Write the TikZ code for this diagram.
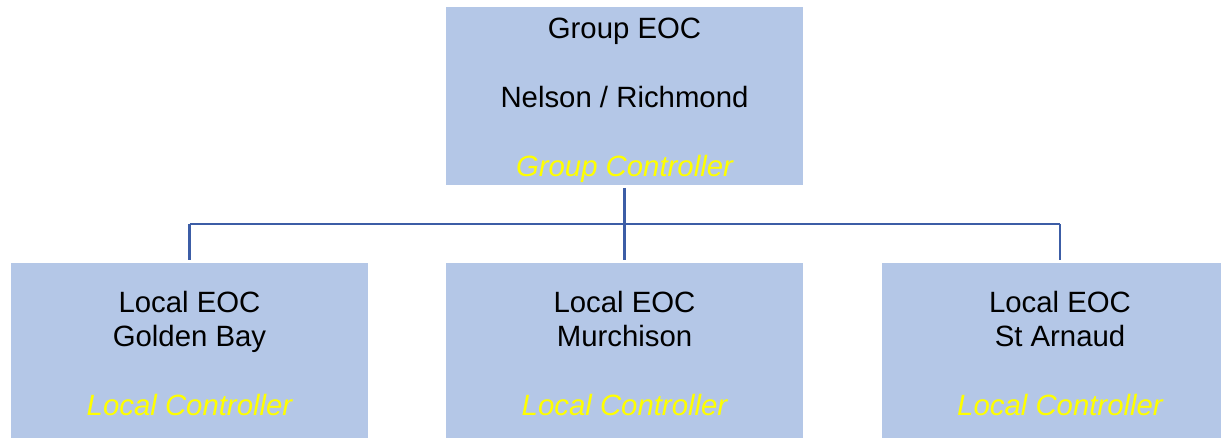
\documentclass[tikz,border=0pt]{standalone}
\usepackage{fontspec}
\setmainfont{Liberation Sans}
\definecolor{boxblue}{HTML}{B4C7E7}
\definecolor{linkblue}{HTML}{3C5DA6}
\definecolor{ctrlyellow}{HTML}{FFFF00}
\tikzset{
  eocbox/.style={fill=boxblue, minimum width=7.14cm, minimum height=3.56cm,
    inner sep=0pt, align=center, font=\fontsize{16.7}{19.6}\selectfont},
  link/.style={draw=linkblue, line width=1.3pt}
}
\begin{document}
\begin{tikzpicture}
  % page size (in cm, 50px per cm)
  \useasboundingbox (0,0) rectangle (24.42,8.76);

  % group level
  \node[eocbox] (group) at (12.49,6.84)
    {\rule{0pt}{17pt}Group EOC\\[19.6pt]Nelson / Richmond\\[19.6pt]\textcolor{ctrlyellow}{\itshape Group Controller}};

  % local level
  \foreach \x/\name/\place in {3.79/gb/Golden Bay, 12.49/mu/Murchison, 21.2/sa/St Arnaud} {
    \node[eocbox] (\name) at (\x,1.72)
      {\rule{0pt}{14pt}Local EOC\\\place\\[19.6pt]\textcolor{ctrlyellow}{\itshape Local Controller}};
  }

  % connectors
  \coordinate (bus) at (12.49,4.28);
  \draw[link, shorten <=0.05cm] (group.south) -- (bus);
  \draw[link] (gb.north |- bus) -- (sa.north |- bus);
  \foreach \name in {gb,mu,sa} {
    \draw[link, shorten >=0.06cm] (\name.north |- bus) -- (\name.north);
  }
\end{tikzpicture}
\end{document}
